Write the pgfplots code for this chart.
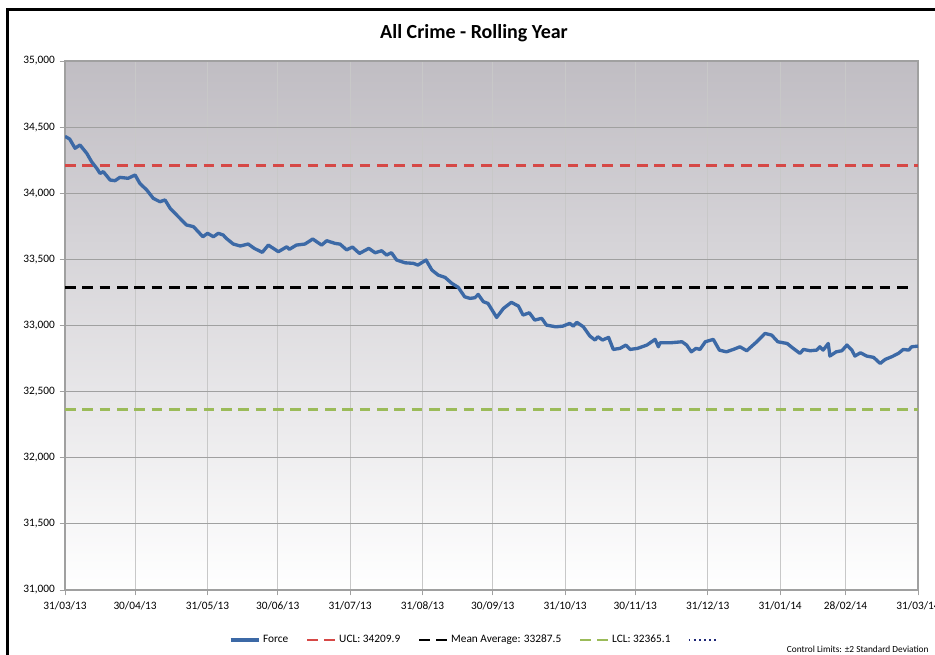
\documentclass[border=0pt]{standalone}
\usepackage{fontspec}
\setmainfont{Carlito}
\usepackage{pgfplots}
\pgfplotsset{compat=1.18}
\definecolor{forceblue}{RGB}{60,105,166}
\definecolor{uclred}{RGB}{214,72,70}
\definecolor{lclgreen}{RGB}{155,187,89}
\definecolor{dotnavy}{RGB}{30,40,120}
\definecolor{bgtop}{RGB}{192,189,195}
\definecolor{bgmid}{RGB}{230,227,233}
\definecolor{bgbot}{RGB}{255,255,255}
\definecolor{hgrid}{RGB}{160,160,160}
\definecolor{vgrid}{RGB}{200,200,200}
\begin{document}
\begin{tikzpicture}
\clip (0,0) rectangle (701.25pt,491.25pt);
\fill[white] (0,0) rectangle (701.25pt,491.25pt);
\draw[black, line width=2.25pt] (5.25pt,-3pt) -- (5.25pt,483.75pt) -- (710pt,483.75pt);
\node[font=\fontsize{15}{18}\selectfont\bfseries] at (355.5pt,466.5pt) {All Crime - Rolling Year};
\node[anchor=base west, font=\fontsize{7}{8}\selectfont, inner sep=0pt] at (590pt,2.2pt) {Control Limits: ±2 Standard Deviation};
\begin{axis}[
  at={(48.75pt,48.75pt)}, anchor=south west,
  scale only axis, width=639.75pt, height=396.75pt,
  xmin=0, xmax=365, ymin=31000, ymax=35000,
  axis background/.style={shade, top color=bgtop, middle color=bgmid, bottom color=bgbot},
  xtick={0,30,61,91,122,153,183,214,244,275,306,334,365},
  xticklabels={31/03/13,30/04/13,31/05/13,30/06/13,31/07/13,31/08/13,30/09/13,31/10/13,30/11/13,31/12/13,31/01/14,28/02/14,31/03/14},
  ytick={31000,31500,...,35000},
  /pgf/number format/assume math mode=true,
  /pgf/number format/1000 sep={,},
  scaled y ticks=false,
  tick label style={font=\fontsize{8.5}{10}\selectfont, text=black},
  tick align=outside, tick pos=left,
  major tick length=4pt,
  tick style={hgrid, line width=0.6pt},
  xmajorgrids, ymajorgrids,
  x grid style={vgrid, line width=0.6pt},
  y grid style={hgrid, line width=0.7pt},
  axis line style={hgrid, line width=0.8pt},
  xticklabel style={yshift=-1pt},
  legend columns=5,
  legend style={at={(0.482,-0.0945)}, anchor=center, draw=none, fill=none,
    font=\fontsize{8.5}{10}\selectfont, column sep=0pt,
    /tikz/every even column/.append style={column sep=11pt}},
  legend image code/.code={\draw[#1] (0pt,0pt) -- (21pt,0pt);},
  clip=true,
]
\addplot[uclred, line width=2.2pt, dash pattern=on 8pt off 5pt, forget plot] coordinates {(0,34209.9) (365,34209.9)};
\addplot[black, line width=2.2pt, dash pattern=on 8pt off 5pt, forget plot] coordinates {(0,33287.5) (362,33287.5)};
\addplot[lclgreen, line width=2.2pt, dash pattern=on 8pt off 5pt, forget plot] coordinates {(0,32365.1) (365,32365.1)};
\addplot[forceblue, line width=2.5pt, line join=round] coordinates {
(0,34430) (2,34410) (4.3,34340) (6.4,34365) (9.3,34302) (11.4,34238) (13.6,34188) (15,34150) (16.4,34163) (19.3,34100)
(21.4,34095) (23.5,34120) (27,34113) (30,34138) (32,34075) (35,34024) (37.8,33961) (40.6,33936) (42.8,33949) (45,33886)
(47.8,33835) (52,33760) (55,33747) (59,33671) (61,33697) (63.5,33671) (65.6,33697) (67.7,33684) (69,33659) (72,33616)
(75,33601) (78.4,33616) (81,33583) (84.4,33553) (87,33608) (91.3,33558) (94.9,33595) (96,33576) (99,33608) (102.7,33616)
(106,33654) (109.8,33608) (112,33641) (115.5,33621) (117.7,33615) (120.5,33572) (123,33593) (126,33545) (130,33583) (132.7,33550)
(135.5,33565) (137.6,33533) (139.7,33550) (141.9,33495) (145.5,33474) (149,33470) (151,33457) (154.5,33495) (157,33419) (159.7,33381)
(162.6,33364) (165.5,33319) (168.3,33288) (171,33217) (173.3,33205) (175.4,33210) (176.8,33235) (179,33180) (181,33167) (184.7,33061)
(187.6,33129) (191,33175) (194,33147) (196,33079) (198.7,33096) (201,33041) (204,33054) (206,33003) (210,32990) (213,32995)
(216,33016) (217.5,32995) (219,33024) (221.8,32990) (224.6,32920) (226.8,32890) (228,32915) (230,32890) (232.6,32910) (234.6,32819)
(237.5,32827) (240,32852) (241.8,32819) (245,32827) (249,32852) (252.5,32895) (253.9,32839) (254.6,32869) (258.9,32869) (264,32877)
(266,32852) (268,32801) (270,32827) (271.7,32819) (274,32877) (277.4,32895) (280,32814) (283,32801) (286,32819) (288.8,32839)
(291.7,32809) (296,32877) (299.5,32940) (302.4,32927) (305,32877) (309,32864) (311.6,32827) (314.5,32789) (316,32819) (318.8,32809)
(321.7,32814) (323,32839) (324.4,32814) (326.6,32864) (327.3,32769) (330,32801) (332.4,32809) (334.6,32852) (336.7,32814) (338,32769)
(340.4,32794) (343,32769) (346,32759) (348.8,32713) (351,32744) (353.8,32764) (356.6,32789) (358.7,32819) (361,32814) (362.3,32839)
(365,32844)
};
\addlegendentry{Force}
\addlegendimage{uclred, line width=2.2pt, dash pattern=on 8pt off 5pt}
\addlegendentry{UCL: 34209.9}
\addlegendimage{black, line width=2.2pt, dash pattern=on 8pt off 5pt}
\addlegendentry{Mean Average: 33287.5}
\addlegendimage{lclgreen, line width=2.2pt, dash pattern=on 8pt off 5pt}
\addlegendentry{LCL: 32365.1}
\addlegendimage{dotnavy, line width=1.5pt, dash pattern=on 1.2pt off 2.6pt}
\addlegendentry{}
\end{axis}
\end{tikzpicture}
\end{document}
